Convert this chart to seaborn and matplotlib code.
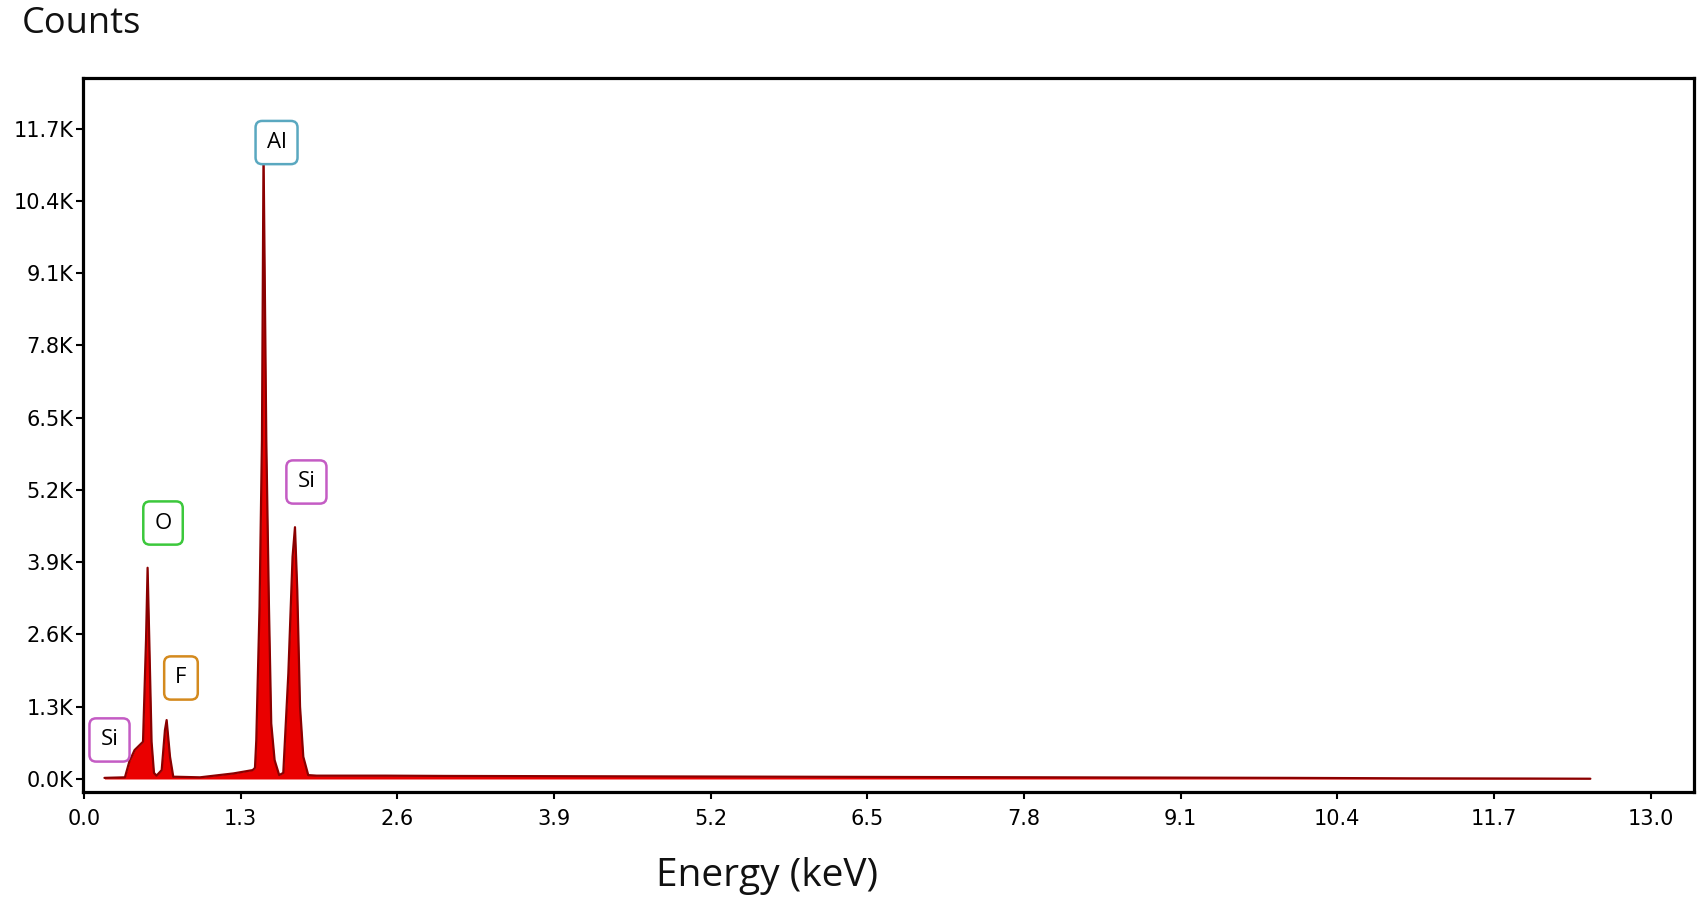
import matplotlib
matplotlib.use("Agg")
import matplotlib.pyplot as plt
import seaborn as sns
import pandas as pd

# ---- data ----
energy_kev = [0.17, 0.34, 0.38, 0.395, 0.42, 0.49, 0.515, 0.528, 0.542, 0.561, 0.581, 0.602,
              0.645, 0.672, 0.686, 0.714, 0.741, 0.768, 0.963, 1.24, 1.40, 1.419, 1.43, 1.457,
              1.477, 1.490, 1.513, 1.535, 1.554, 1.582, 1.62, 1.654, 1.696, 1.731, 1.751,
              1.770, 1.793, 1.82, 1.861, 1.93, 2.5, 3.0, 4.0, 5.0, 6.0, 7.0, 8.0, 9.0, 10.0,
              11.0, 12.0, 12.5]
counts = [20, 30, 340, 400, 520, 670, 2500, 3800, 2500, 670, 110, 60,
          160, 880, 1060, 400, 40, 40, 30, 100, 160, 200, 700, 3100,
          6100, 11300, 6100, 3100, 1000, 340, 70, 110, 1900, 4000, 4530,
          3400, 1300, 400, 70, 60, 60, 55, 50, 45, 40, 35, 30, 25, 20,
          12, 8, 5]

peak_labels = ["Si", "O", "F", "Al", "Si"]
label_energy = [0.212, 0.656, 0.805, 1.598, 1.846]
label_counts = [702, 4605, 1817, 11450, 5343]
label_colors = ["#c45cc4", "#3cc83c", "#d48a1e", "#5aa8c0", "#c45cc4"]

xticks = [0.0, 1.3, 2.6, 3.9, 5.2, 6.5, 7.8, 9.1, 10.4, 11.7, 13.0]
yticks = [0, 1300, 2600, 3900, 5200, 6500, 7800, 9100, 10400, 11700]
ytick_labels = ["0.0K", "1.3K", "2.6K", "3.9K", "5.2K", "6.5K", "7.8K", "9.1K", "10.4K", "11.7K"]

df = pd.DataFrame({"energy": energy_kev, "counts": counts})

sns.set_theme(style="white")
plt.rcParams["font.family"] = ["DejaVu Sans"]

fig = plt.figure(figsize=(17.07, 9.08), dpi=100)
ax = fig.add_axes([83 / 1707, 1 - 792 / 908, (1694 - 83) / 1707, (792 - 78) / 908])

ax.fill_between(df["energy"], df["counts"], 0, color="#ea0000", linewidth=0, zorder=2)
sns.lineplot(data=df, x="energy", y="counts", ax=ax, color="#8a0000", linewidth=1.6,
             zorder=3, estimator=None, sort=False)

for lab, ex, cy, col in zip(peak_labels, label_energy, label_counts, label_colors):
    ax.text(ex, cy, lab, ha="center", va="center", fontsize=16, family="Open Sans",
            color="black", zorder=5,
            bbox=dict(boxstyle="round,pad=0.5,rounding_size=0.3", fc="white", ec=col, lw=1.8))

ax.set_xlim(-0.008, 13.36)
ax.set_ylim(-234, 12611)
ax.set_xticks(xticks)
ax.set_xticklabels([f"{t:.1f}" for t in xticks])
ax.set_yticks(yticks)
ax.set_yticklabels(ytick_labels)
ax.tick_params(axis="both", which="both", direction="out", length=5, width=1.5,
               colors="black", labelsize=15, pad=2, left=True, bottom=True)
ax.tick_params(axis="x", pad=7)
for s in ax.spines.values():
    s.set_color("black")
    s.set_linewidth(2.3)
ax.set_xlabel("")
ax.set_ylabel("")

fig.text(22 / 1707, 1 - 24 / 908, "Counts", ha="left", va="center", fontsize=26,
         family="Open Sans", color="#111111")
fig.text(767 / 1707, 1 - 876 / 908, "Energy (keV)", ha="center", va="center", fontsize=28,
         family="Open Sans", color="#111111")

fig.savefig("out.png", dpi=100, facecolor="white")
